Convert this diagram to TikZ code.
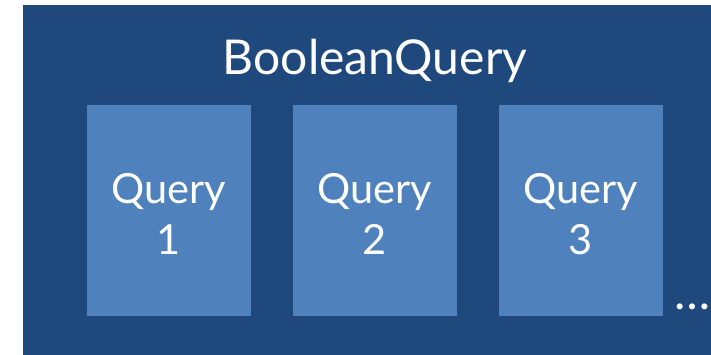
\documentclass[tikz,border=0pt]{standalone}
\usepackage{fontspec}
\setmainfont{Lato}
\definecolor{outerblue}{HTML}{1F497D}
\definecolor{innerblue}{HTML}{4F81BD}
\tikzset{
  outerbox/.style={fill=outerblue, draw=none},
  querybox/.style={fill=innerblue, draw=none, minimum width=164pt, minimum height=211pt, inner sep=0pt},
  boxtext/.style={text=white, font=\fontsize{41.5}{48}\selectfont, anchor=base, inner sep=0pt},
  titletext/.style={text=white, font=\fontsize{48}{56}\selectfont, anchor=base, inner sep=0pt},
  moretext/.style={text=white, font=\fontsize{48}{56}\selectfont, anchor=base, inner sep=0pt}
}
\begin{document}
\begin{tikzpicture}[x=1pt,y=-1pt]
  \useasboundingbox (0,0) rectangle (711,355);
  \fill[outerblue] (23,5) rectangle (711,355);
  \node[titletext] (title) at (375,75) {BooleanQuery};
  \foreach \i/\cx in {1/169,2/375,3/581}{
    \node[querybox] (q\i) at (\cx,210.5) {};
    \node[boxtext] (qa\i) at (\cx,204) {Query};
    \node[boxtext] (qb\i) at (\cx,254) {\i};
  }
  \node[moretext] (more) at (692.5,309.5) {\ldots};
\end{tikzpicture}
\end{document}
